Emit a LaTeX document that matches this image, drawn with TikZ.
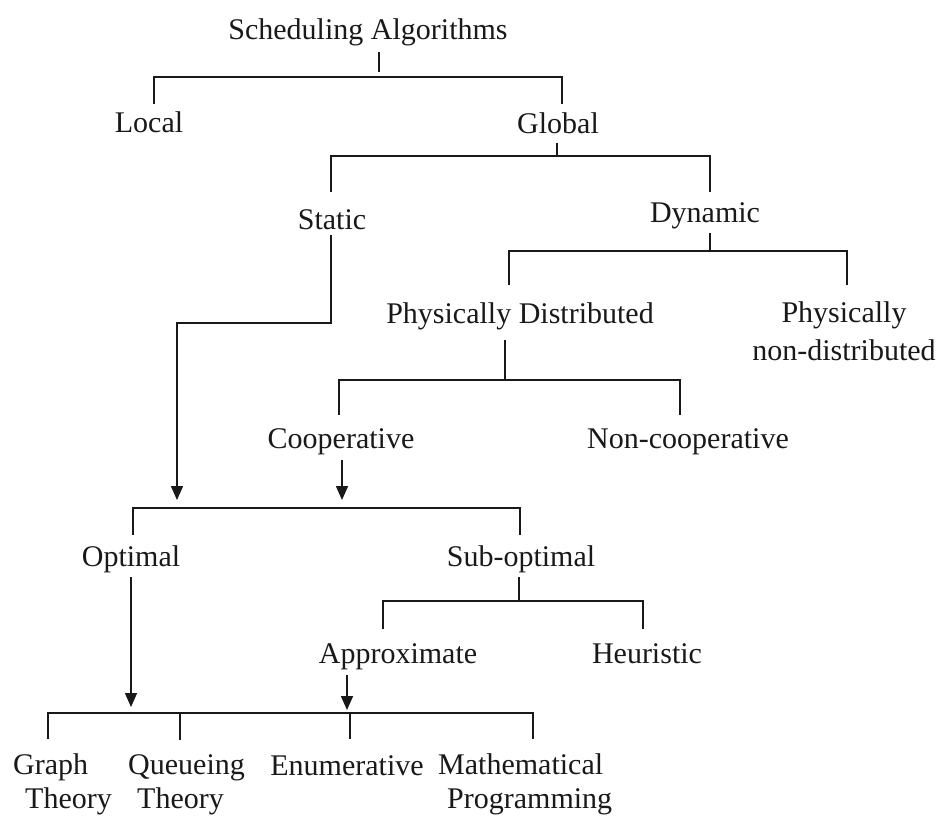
\documentclass[tikz,border=0pt]{standalone}
\usepackage{fontspec}
\setmainfont{Liberation Serif}
\usetikzlibrary{arrows.meta}
\begin{document}
\begin{tikzpicture}[x=1pt,y=-1pt,
  lbl/.style={anchor=base,inner sep=0pt,font=\fontsize{30}{38}\selectfont,text=black!90},
  low/.style={lbl,anchor=base west,align=left,font=\fontsize{30}{34}\selectfont},
  ln/.style={draw=black!90,line width=1.6pt},
  arr/.style={ln,-{Triangle[length=14pt,width=12pt]}}]
\useasboundingbox[fill=white] (0,0) rectangle (947,816);
% labels
\node[lbl] (root) at (368,40) {Scheduling Algorithms};
\node[lbl] (local) at (149,132) {Local};
\node[lbl] (global) at (558,133) {Global};
\node[lbl] (static) at (332,229) {Static};
\node[lbl] (dynamic) at (705,222) {Dynamic};
\node[lbl] (pd) at (520,323) {Physically Distributed};
\node[lbl,align=center] (pnd) at (844,360) {Physically\\non-distributed};
\node[lbl] (coop) at (341,448) {Cooperative};
\node[lbl] (noncoop) at (688,448) {Non-cooperative};
\node[lbl] (opt) at (131,566) {Optimal};
\node[lbl] (subopt) at (521,566) {Sub-optimal};
\node[lbl] (approx) at (398,663) {Approximate};
\node[lbl] (heur) at (647,663) {Heuristic};
\node[low] (graph) at (13,808) {Graph\\\hspace*{12pt}Theory};
\node[low] (queue) at (128,808) {Queueing\\\hspace*{9pt}Theory};
\node[lbl] (enum) at (347,775) {Enumerative};
\node[low] (math) at (438,808) {Mathematical\\\hspace*{9pt}Programming};
% junction coordinates
\coordinate (r1) at (379,52);  \coordinate (r2) at (379,72);
\coordinate (l1) at (154,104); \coordinate (g1) at (562,104);
\coordinate (gs1) at (557,143); \coordinate (gs2) at (557,156);
\coordinate (st1) at (331,192); \coordinate (dy1) at (710,192);
\coordinate (sts) at (331,235); \coordinate (stt) at (177,500);
\coordinate (dys1) at (710,233); \coordinate (dys2) at (710,251);
\coordinate (pd1) at (509,285); \coordinate (pnd1) at (847,285);
\coordinate (pds1) at (505,340); \coordinate (pds2) at (505,380);
\coordinate (co1) at (339,415); \coordinate (nc1) at (680,415);
\coordinate (cos1) at (342,460); \coordinate (cos2) at (342,500);
\coordinate (op1) at (133,535); \coordinate (so1) at (520,535);
\coordinate (ops1) at (131,577); \coordinate (ops2) at (131,707);
\coordinate (sos1) at (519,577); \coordinate (sos2) at (519,601);
\coordinate (ap1) at (383,629); \coordinate (he1) at (643,629);
\coordinate (aps1) at (347,675); \coordinate (aps2) at (347,710);
\coordinate (gr1) at (48,739); \coordinate (qu1) at (180,740);
\coordinate (en1) at (350,739); \coordinate (ma1) at (533,739);
% connectors
\draw[ln] (r1) -- (r2);
\draw[ln] (l1) |- (154,77) -| (g1);
\draw[ln] (gs1) -- (gs2);
\draw[ln] (st1) |- (gs2) -| (dy1);
\draw[arr] (sts) |- (177,323) -- (stt);
\draw[ln] (dys1) -- (dys2);
\draw[ln] (pd1) |- (dys2) -| (pnd1);
\draw[ln] (pds1) -- (pds2);
\draw[ln] (co1) |- (pds2) -| (nc1);
\draw[arr] (cos1) -- (cos2);
\draw[ln] (op1) |- (300,508) -| (so1);
\draw[arr] (ops1) -- (ops2);
\draw[ln] (sos1) -- (sos2);
\draw[ln] (ap1) |- (sos2) -| (he1);
\draw[arr] (aps1) -- (aps2);
\draw[ln] (gr1) |- (300,713) -| (ma1);
\draw[ln] (qu1) -- (qu1 |- 0,713);
\draw[ln] (en1) -- (en1 |- 0,713);
\end{tikzpicture}
\end{document}
